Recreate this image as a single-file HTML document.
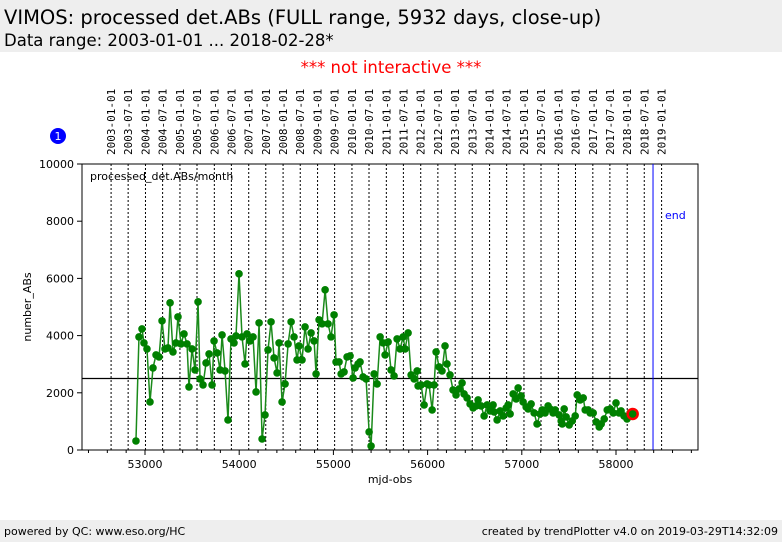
<!DOCTYPE html>
<html><head><meta charset="utf-8"><style>
body{margin:0;width:782px;height:542px;background:#fff;font-family:"DejaVu Sans","Liberation Sans",sans-serif;overflow:hidden;position:relative}
.hdr{position:absolute;left:0;top:0;width:782px;height:52px;background:#eeeeee}
.t1{position:absolute;left:4px;top:6px;font-size:19.5px;color:#000;white-space:nowrap}
.t2{position:absolute;left:4px;top:31px;font-size:16.5px;color:#000;white-space:nowrap}
.ni{position:absolute;left:0;width:782px;top:58px;text-align:center;color:#ff0000;font-size:16.5px}
.ftr{position:absolute;left:0;top:520px;width:782px;height:22px;background:#eeeeee;font-size:11px}
.fl{position:absolute;left:4px;top:5px}.fr{position:absolute;right:4px;top:5px}
svg{position:absolute;left:0;top:0;font-family:"DejaVu Sans","Liberation Sans",sans-serif}
</style></head><body>
<div class="hdr">
<div class="t1">VIMOS: processed det.ABs (FULL range, 5932 days, close-up)</div>
<div class="t2">Data range: 2003-01-01 ... 2018-02-28*</div></div>
<div class="ni">*** not interactive ***</div>
<svg id="chart" width="782" height="542"></svg>
<div class="ftr"><span class="fl">powered by QC: www.eso.org/HC</span><span class="fr">created by trendPlotter v4.0 on 2019-03-29T14:32:09</span></div>
<script>
const mjd=[52904,52936,52968,52989,53021,53053,53085,53117,53149,53181,53212,53244,53266,53297,53329,53350,53382,53414,53446,53467,53499,53531,53563,53584,53616,53648,53680,53712,53733,53765,53797,53818,53850,53881,53913,53945,53966,53998,54030,54062,54083,54115,54147,54179,54211,54243,54274,54306,54338,54370,54402,54423,54455,54487,54519,54551,54582,54614,54635,54667,54699,54731,54763,54795,54816,54848,54880,54912,54943,54975,55007,55028,55060,55082,55113,55145,55177,55209,55230,55262,55283,55315,55347,55379,55400,55432,55464,55496,55528,55549,55581,55612,55644,55676,55708,55740,55761,55793,55825,55857,55889,55899,55931,55963,55995,56016,56048,56069,56090,56122,56153,56185,56206,56238,56270,56302,56334,56366,56387,56419,56451,56483,56515,56536,56568,56600,56632,56663,56695,56706,56738,56770,56802,56834,56855,56876,56908,56940,56961,56993,57014,57046,57067,57099,57131,57162,57194,57216,57247,57279,57300,57332,57354,57396,57418,57429,57450,57471,57503,57535,57567,57588,57620,57652,57673,57705,57726,57758,57790,57822,57843,57875,57907,57939,57971,58000,58032,58054,58085,58117,58149];
const vals=[315,3955,4235,3745,3535,1680,2870,3325,3255,4515,3535,3570,5145,3430,3745,4655,3710,4060,3710,2205,3535,2800,5180,2485,2275,3045,3360,2275,3815,3395,2800,4025,2765,1050,3885,3745,3990,6160,3955,3010,4060,3815,3955,2030,4445,385,1225,3500,4480,3220,2695,3745,1680,2310,3710,4480,3955,3150,3640,3150,4305,3535,4095,3815,2660,4550,4410,5600,4410,3955,4725,3080,3080,2660,2730,3255,3290,2520,2870,3010,3080,2555,2485,630,140,2660,2310,3955,3745,3325,3780,2800,2590,3885,3535,3955,3535,4095,2625,2485,2765,2240,2275,1575,2310,2275,1400,2275,3430,2905,2765,3640,3010,2625,2100,1925,2135,2345,1960,1820,1610,1470,1540,1750,1540,1190,1575,1365,1575,1330,1050,1365,1190,1470,1575,1260,1960,1785,2170,1890,1680,1505,1435,1610,1295,910,1260,1400,1295,1540,1435,1295,1400,1225,1015,910,1435,1155,875,1015,1190,1925,1750,1820,1400,1400,1295,1295,980,805,910,1085,1400,1435,1295,1645,1295,1365,1190,1085,1295];
const lastPoint=[58177,1260];
const xTicks=[53000,54000,55000,56000,57000,58000];
const yTicks=[0,2000,4000,6000,8000,10000];
const dateLabels=["2003-01-01","2003-07-01","2004-01-01","2004-07-01","2005-01-01","2005-07-01","2006-01-01","2006-07-01","2007-01-01","2007-07-01","2008-01-01","2008-07-01","2009-01-01","2009-07-01","2010-01-01","2010-07-01","2011-01-01","2011-07-01","2012-01-01","2012-07-01","2013-01-01","2013-07-01","2014-01-01","2014-07-01","2015-01-01","2015-07-01","2016-01-01","2016-07-01","2017-01-01","2017-07-01","2018-01-01","2018-07-01","2019-01-01"];
const dateMjd=[52640,52821,53005,53187,53371,53552,53736,53917,54101,54282,54466,54648,54832,55013,55197,55378,55562,55743,55927,56109,56293,56474,56658,56839,57023,57204,57388,57570,57754,57935,58119,58300,58484];
const refValue=[2500];
const endMjd=[58393];

const L=82,R=698,T=164,B=450;
const X=m=>145+(m-53000)*0.0942;
const Y=v=>B-(v/10000)*(B-T);
const svg=document.getElementById('chart');
const NS='http://www.w3.org/2000/svg';
function mk(t,a,p){const e=document.createElementNS(NS,t);for(const k in a)e.setAttribute(k,a[k]);(p||svg).appendChild(e);return e;}

dateMjd.forEach((m,i)=>{const x=X(m);
 const l=mk('line',{x1:x,y1:T,x2:x,y2:B,stroke:'#000','stroke-width':1,'stroke-dasharray':'2,2'});
 
 
 const t=mk('text',{x:0,y:0,transform:`translate(${x+4},155) rotate(-90)`,'font-size':11,'font-family':'DejaVu Sans Mono, Liberation Mono, monospace',fill:'#000'});
 t.textContent=dateLabels[i];
 
 
});
const fr=mk('rect',{x:L,y:T,width:R-L,height:B-T,fill:'none',stroke:'#000','stroke-width':1});


const rl=mk('line',{x1:L,x2:R,y1:Y(refValue[0]),y2:Y(refValue[0]),stroke:'#000','stroke-width':1.3});


const el=mk('line',{x1:X(endMjd[0]),x2:X(endMjd[0]),y1:T,y2:B,stroke:'#0000ff','stroke-width':1});


const et=mk('text',{x:X(endMjd[0])+12,y:219,'font-size':11,fill:'#0000ff'});
et.textContent='end';


const pl=mk('text',{x:90,y:180,'font-size':11,fill:'#000'});
pl.textContent='processed_det.ABs/month';


for(let m=52400;m<=58800;m+=200){const x=X(m);if(x<L||x>R)continue;const maj=xTicks.includes(m);
 const tk=mk('line',{x1:x,x2:x,y1:B,y2:B+(maj?5:3),stroke:'#000'});
 
 }
xTicks.forEach(m=>{const t=mk('text',{x:X(m),y:468,'font-size':11,'text-anchor':'middle'});t.textContent=m;
 
 });
yTicks.forEach(v=>{const y=Y(v);mk('line',{x1:L-5,x2:L,y1:y,y2:y,stroke:'#000'});
 const t=mk('text',{x:L-8,y:y+4,'font-size':11,'text-anchor':'end'});t.textContent=v;
 
 });
const xt=mk('text',{x:390,y:483,'font-size':11,'text-anchor':'middle'});xt.textContent='mjd-obs';


const yt=mk('text',{x:0,y:0,transform:'translate(31,307) rotate(-90)','font-size':11,'text-anchor':'middle'});yt.textContent='number_ABs';


const ln=mk('polyline',{points:mjd.map((m,i)=>X(m)+','+Y(vals[i])).join(' '),fill:'none',stroke:'#1a8a1a','stroke-width':1.5});


mjd.forEach((m,i)=>{const c=mk('circle',{cx:X(m),cy:Y(vals[i]),r:3.8,fill:'#008000'});
 
 });
const lp=mk('circle',{cx:X(lastPoint[0]),cy:Y(lastPoint[1]),r:5,fill:'#008000',stroke:'#ff0000','stroke-width':2.5});


const b=mk('circle',{cx:58,cy:136,r:8,fill:'#0000ff'});


const bt=mk('text',{x:58,y:140,'font-size':11,fill:'#fff','text-anchor':'middle'});bt.textContent='1';


</script>
</body></html>
